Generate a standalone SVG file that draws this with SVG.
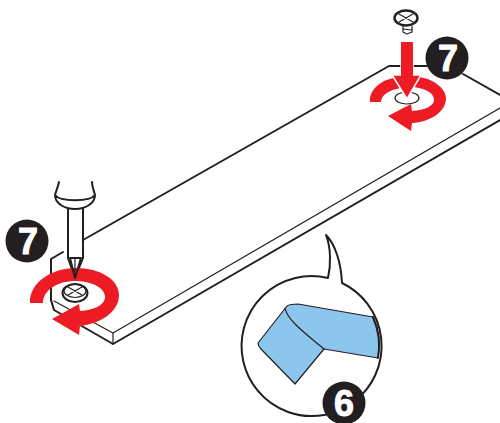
<svg xmlns="http://www.w3.org/2000/svg" width="500" height="423" viewBox="0 0 500 423">
<style>
.l{fill:none;stroke:#231f20;stroke-width:2;stroke-linejoin:round;stroke-linecap:round}
.t{stroke-width:1.2}
.r{fill:#ed1c24}
.b{fill:#231f20}
.n{fill:#fff;stroke:#fff;stroke-width:1;font-family:"Liberation Sans",Arial,sans-serif;font-weight:700;font-size:37px;text-anchor:middle}
</style>
<g id="board">
<path fill="#fff" d="M51 259L63 252L389 66L463 74L500 95V120L113 344L53 310L51 300Z"/>
<path class="l" d="M51 300V259L63 252M83 240L389 66H428M463 74L500 95"/>
<path class="l" d="M51 300L54 310L113 344L500 120"/>
<path class="l t" d="M54 301L113 333L500 108M113 333V344"/>
</g>
<g id="screw-bottom">
<ellipse class="l" fill="#fff" cx="75" cy="293" rx="12.5" ry="9"/>
<ellipse class="l t" cx="75" cy="291" rx="11" ry="6.5"/>
<path class="l t" d="M68 287L82 295M68 295L82 287"/>
</g>
<g id="screwdriver">
<path class="l" fill="#fff" d="M68 209V258L75 278L83 258V209"/>
<path class="l" fill="#fff" d="M59 182C58 187 56 191 55 195C55 203 64 209 75 209C86 209 95 203 95 195C94 191 92 187 92 182M55 195C60 202 90 202 95 195"/>
</g>
<g id="arrow-bottom">
<path class="r" d="M30 303C29 282 53 268 75 268C101 268 119 280 119 295C119 312 100 324 80 326L79 335L52 319L79 304L80 311C94 310 105 305 105 297C105 288 92 281 75 281C58 281 43 290 43 303Z"/>
</g>
<g id="screwdriver-tip">
<path class="l" fill="#fff" d="M70 258L75 278L81 258Z"/>
<path class="l t" d="M75 258V272"/>
</g>
<g id="badge-left">
<circle class="b" cx="27" cy="241" r="21.5"/>
<text class="n" x="28" y="254" textLength="20" lengthAdjust="spacingAndGlyphs">7</text>
</g>
<g id="screw-top">
<path class="l t" fill="#fff" d="M403 26V32L407 34L412 32V26"/>
<path class="l t" d="M403 29L412 30"/>
<ellipse fill="#fff" stroke="#231f20" stroke-width="2.4" cx="406" cy="18" rx="11.5" ry="7.5"/>
<path class="l t" d="M399 14L413 22M399 22L413 14"/>
</g>
<g id="hole">
<ellipse class="l t" fill="#fff" cx="407" cy="98" rx="12" ry="6"/>
</g>
<g id="arrow-top">
<path class="r" d="M370 102C369 90 380 81 393 78L401 88C389 90 381 95 381 102Z"/>
<path class="r" d="M420 77C436 80 446 90 446 98C446 112 430 122 412 123L411 131L388 116L411 104L412 111C425 110 434 106 434 100C434 94 428 89 414 87Z"/>
<path class="r" stroke="#fff" stroke-width="1.5" d="M401 42H413V75H421L407 99L392 75H401Z"/>
<rect class="r" x="401" y="42" width="12" height="36"/>
</g>
<g id="badge-right">
<circle class="b" cx="447" cy="58" r="21.5"/>
<text class="n" x="448" y="71" textLength="20" lengthAdjust="spacingAndGlyphs">7</text>
</g>
<g id="bubble">
<path class="l" fill="#fff" d="M328 278C331 265 331 248 326 235C335 244 341 262 342 283A70 70 0 1 1 328 278Z"/>
<path fill="#8dc6ec" stroke="#231f20" stroke-width="1.2" stroke-linejoin="round" d="M287 306C290 304 294 304 298 304L373 317A70 70 0 0 1 378 358L324 349L295 384L261 349C259 347 258 345 258 343Z"/>
<path class="l t" d="M285 308C287 320 305 333 324 349"/>
<path class="l" d="M373 317A70 70 0 0 1 378 358"/>
</g>
<g id="badge-six">
<circle class="b" cx="344" cy="403" r="21.5"/>
<text class="n" x="344" y="416" textLength="20" lengthAdjust="spacingAndGlyphs">6</text>
</g>
</svg>
